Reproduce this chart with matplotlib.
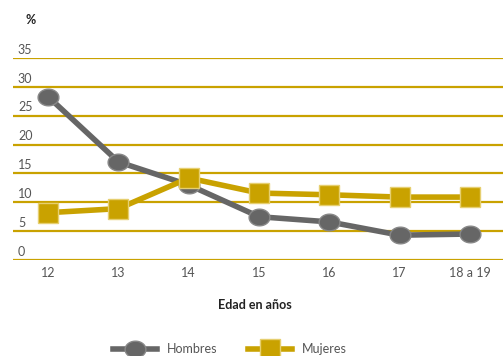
import numpy as np
import matplotlib.pyplot as plt

edades = ["12", "13", "14", "15", "16", "17", "18 a 19"]
hombres = [28.3, 17.0, 13.0, 7.5, 6.6, 4.3, 4.5]
mujeres = [8.2, 8.9, 14.2, 11.6, 11.3, 10.9, 10.9]
yticks = [0, 5, 10, 15, 20, 25, 30, 35]

gold = "#C9A200"
gray = "#666666"
txt = "#555555"
plt.rcParams['font.family'] = ['Lato', 'DejaVu Sans']

# ellipse marker, a bit wider than tall
t = np.linspace(0, 2 * np.pi, 40)
elipse = list(zip(1.25 * np.cos(t), np.sin(t)))

fig = plt.figure(figsize=(5.03, 3.56), dpi=100)
ax = fig.add_axes([13/503, 96/356, 490/503, 202/356])
x = np.arange(len(edades))

for v in yticks:
    ax.axhline(v, color=gold, lw=1.6, zorder=1)
    ax.text(-0.43, v + 0.4, str(v), color=txt, fontsize=9, va="bottom", ha="left")

ax.plot(x, hombres, color=gray, lw=4, marker=elipse, markersize=15,
        markerfacecolor=gray, markeredgecolor="#888888", zorder=3, label="Hombres")
ax.plot(x, mujeres, color=gold, lw=4, marker="s", markersize=14,
        markerfacecolor=gold, markeredgecolor="#e6cf70", zorder=4, label="Mujeres")

ax.set_xlim(-0.5, 6.47)
ax.set_ylim(0, 35)
ax.set_xticks(x)
ax.set_xticklabels(edades, color=txt, fontsize=9)
ax.tick_params(length=0, pad=5)
ax.set_yticks([])
for s in ax.spines.values():
    s.set_visible(False)

fig.text(25/503, 1 - 20/356, "%", fontsize=9, fontweight="bold", color="#222222", va="center")
fig.text(255/503, 1 - 305/356, "Edad en años", fontsize=9, fontweight="bold",
         color="#222222", ha="center", va="center")

fig.legend(loc="upper center", bbox_to_anchor=(230/503, 1 - 343/356), ncol=2, frameon=False,
           handlelength=3.5, columnspacing=2.5, labelcolor=txt,
           borderaxespad=0, borderpad=0, prop={"size": 9})

fig.savefig("out.png", dpi=100)
